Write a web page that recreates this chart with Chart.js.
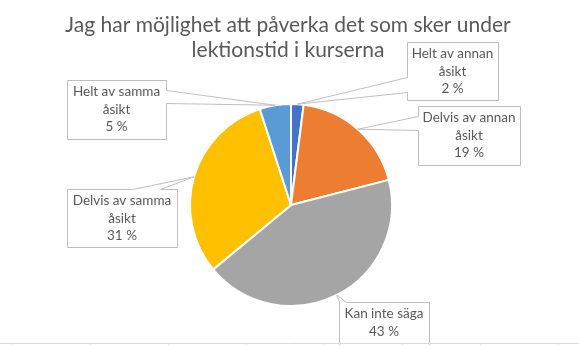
<!DOCTYPE html>
<html>
<head>
<meta charset="utf-8">
<script src="https://cdn.jsdelivr.net/npm/chart.js@4.4.0/dist/chart.umd.min.js"></script>
<style>
  html, body { margin: 0; padding: 0; background: #fff; }
  #wrap { position: relative; width: 579px; height: 345px; }
</style>
</head>
<body>
<div id="wrap"><canvas id="pie"></canvas></div>
<script>
// ---- data ----
const titleLines = ['Jag har möjlighet att påverka det som sker under', 'lektionstid i kurserna'];
const categories = [
  ['Helt av annan', 'åsikt'],
  ['Delvis av annan', 'åsikt'],
  ['Kan inte säga'],
  ['Delvis av samma', 'åsikt'],
  ['Helt av samma', 'åsikt'],
];
const values = [2, 19, 43, 31, 5];

// ---- style ----
const colors = ['#4472C4', '#ED7D31', '#A5A5A5', '#FFC000', '#5B9BD5'];
const TXT = '#595959';
const LINE = '#BFBFBF';
const FONT = "Lato, 'Open Sans', sans-serif";

// callout boxes (Excel-style): box rect + side where the wedge leaves + base offsets along that side
const callouts = [
  { x: 407, y: 42, w: 91, h: 58, side: 'left', a: 35, b: 50 },
  { x: 418, y: 106, w: 102, h: 59, side: 'left', a: 10, b: 24 },
  { x: 339, y: 302, w: 90, h: 50, side: 'top', a: 0, b: 7 },
  { x: 67, y: 189, w: 110, h: 58, side: 'top', a: 65, b: 93 },
  { x: 67, y: 80, w: 99, h: 59, side: 'right', a: 10, b: 23 },
];

const calloutPlugin = {
  id: 'callouts',
  afterDraw(chart) {
    const ctx = chart.ctx;
    const arcs = chart.getDatasetMeta(0).data;
    ctx.save();

    // title
    ctx.fillStyle = TXT;
    ctx.font = `21px ${FONT}`;
    ctx.textAlign = 'center';
    ctx.textBaseline = 'alphabetic';
    titleLines.forEach((t, i) => ctx.fillText(t, 288, 32 + i * 25));

    // labels
    ctx.lineWidth = 1;
    ctx.strokeStyle = LINE;
    arcs.forEach((arc, i) => {
      const c = callouts[i];
      const p = arc.getProps(['x', 'y', 'startAngle', 'endAngle', 'outerRadius'], true);
      const mid = (p.startAngle + p.endAngle) / 2;
      const ax = p.x + Math.cos(mid) * p.outerRadius;
      const ay = p.y + Math.sin(mid) * p.outerRadius;
      const x = c.x + 0.5, y = c.y + 0.5, w = c.w, h = c.h;
      ctx.beginPath();
      if (c.side === 'left') {
        ctx.moveTo(x, y); ctx.lineTo(x + w, y); ctx.lineTo(x + w, y + h); ctx.lineTo(x, y + h);
        ctx.lineTo(x, y + c.b); ctx.lineTo(ax, ay); ctx.lineTo(x, y + c.a);
      } else if (c.side === 'right') {
        ctx.moveTo(x, y); ctx.lineTo(x + w, y); ctx.lineTo(x + w, y + c.a); ctx.lineTo(ax, ay);
        ctx.lineTo(x + w, y + c.b); ctx.lineTo(x + w, y + h); ctx.lineTo(x, y + h);
      } else {
        ctx.moveTo(x, y + h); ctx.lineTo(x, y); if (c.a > 0) ctx.lineTo(x + c.a, y);
        ctx.lineTo(ax, ay); ctx.lineTo(x + c.b, y); ctx.lineTo(x + w, y); ctx.lineTo(x + w, y + h);
      }
      ctx.closePath();
      ctx.fillStyle = '#fff';
      ctx.fill();
      ctx.stroke();

      const lines = categories[i].concat([values[i] + ' %']);
      ctx.fillStyle = TXT;
      ctx.font = `13.5px ${FONT}`;
      ctx.textAlign = 'center';
      ctx.textBaseline = 'middle';
      const cx = c.x + c.w / 2;
      lines.forEach((t, j) => ctx.fillText(t, cx, c.y + 12 + j * 17.5));
    });

    // sheet gridline at the bottom edge
    ctx.strokeStyle = '#D9D9D9';
    ctx.beginPath();
    ctx.moveTo(0, 343.5); ctx.lineTo(579, 343.5);
    for (let gx = 12; gx < 579; gx += 78) { ctx.moveTo(gx + 0.5, 343); ctx.lineTo(gx + 0.5, 345); }
    ctx.stroke();
    ctx.restore();
  }
};

new Chart(document.getElementById('pie'), {
  type: 'pie',
  data: {
    labels: categories.map(c => c.join(' ')),
    datasets: [{
      data: values,
      backgroundColor: colors,
      borderColor: '#fff',
      borderWidth: 2,
    }],
  },
  options: {
    responsive: true,
    maintainAspectRatio: false,
    animation: false,
    layout: { padding: { top: 103, bottom: 38, left: 189, right: 186 } },
    plugins: { legend: { display: false }, tooltip: { enabled: false }, title: { display: false } },
  },
  plugins: [calloutPlugin],
});
</script>
</body>
</html>
